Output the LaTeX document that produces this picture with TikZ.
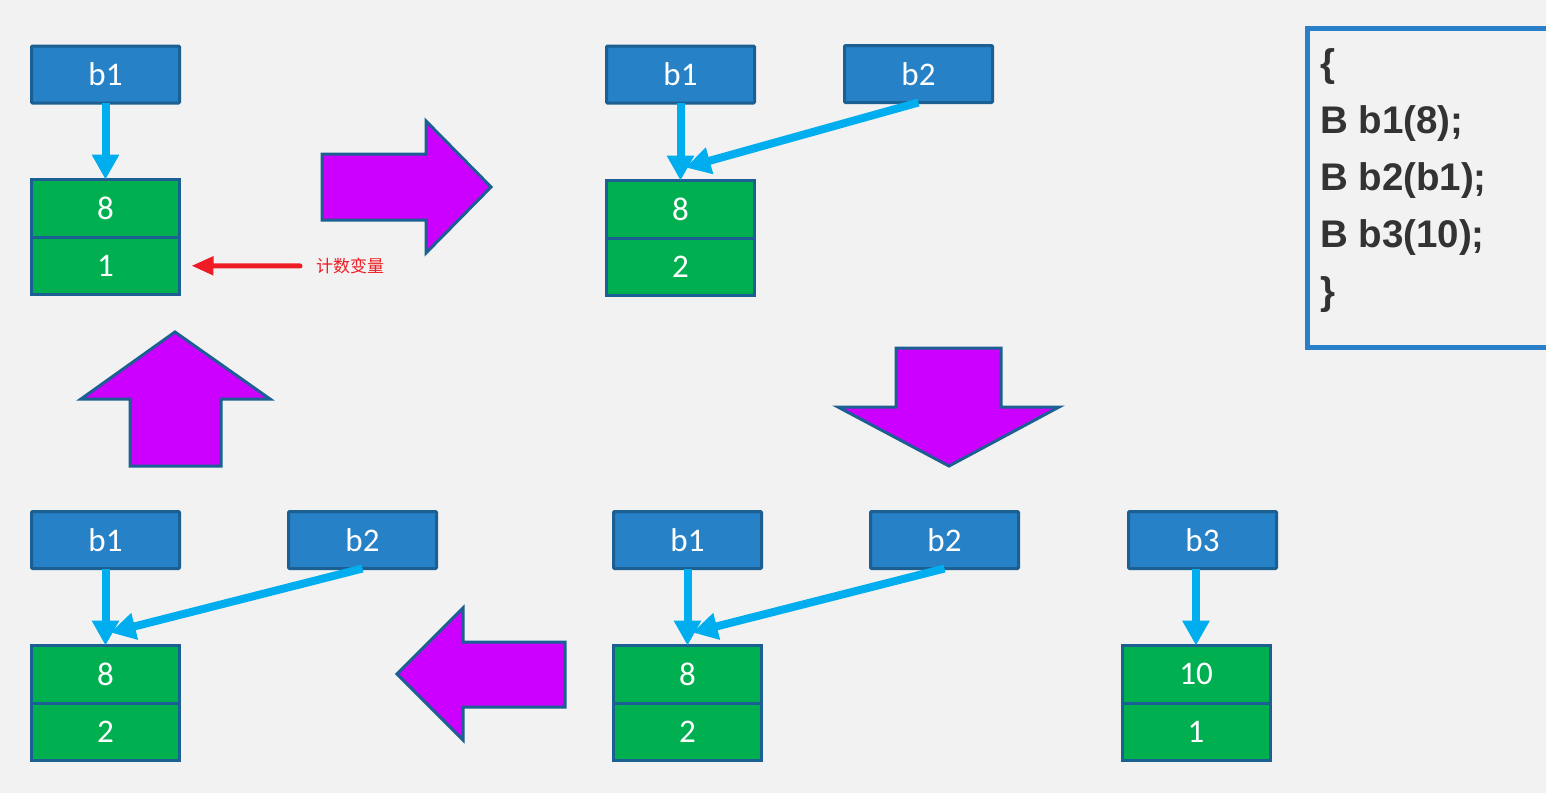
\documentclass[tikz,border=0pt]{standalone}
\usepackage{fontspec}
\setmainfont{Carlito}
\newfontfamily\codefont{Liberation Sans}
\newfontfamily\cjkfont{Noto Sans CJK SC}
\usetikzlibrary{arrows.meta,calc}

\definecolor{bg}{HTML}{F2F2F2}
\definecolor{boxblue}{HTML}{2681C6}
\definecolor{edgeblue}{HTML}{1C5F92}
\definecolor{cellgreen}{HTML}{00AF50}
\definecolor{ptr}{HTML}{00AEEF}
\definecolor{stepfill}{HTML}{CC00FF}
\definecolor{notered}{HTML}{EE1C24}
\definecolor{codegray}{HTML}{333333}
\definecolor{codeframe}{HTML}{2A80C8}

\tikzset{
  every node/.style={inner sep=0pt, outer sep=0pt},
  objname/.style={draw=edgeblue, line width=3pt, fill=boxblue,
    minimum width=148pt, minimum height=57pt, rounded corners=1pt,
    text=white, font=\fontsize{33}{33}\selectfont},
  cell/.style={draw=edgeblue, line width=3pt, fill=cellgreen,
    minimum width=148pt, minimum height=57.5pt,
    text=white, font=\fontsize{33}{33}\selectfont},
  ptrarrow/.style={draw=ptr, line width=8pt,
    -{Triangle[length=25pt,width=26pt]}},
  notearrow/.style={draw=notered, line width=5pt, line cap=round,
    -{Triangle[length=22pt,width=18pt]}},
  notetext/.style={text=notered, font=\cjkfont\fontsize{17}{17}\selectfont},
  stepshape/.style={fill=stepfill, draw=edgeblue, line width=3pt, line join=miter},
  codeline/.style={anchor=base west, text=codegray,
    font=\codefont\bfseries\fontsize{38.5}{38.5}\selectfont},
}

\begin{document}
\begin{tikzpicture}[x=1pt, y=-1pt]
  % canvas
  \fill[bg] (0,0) rectangle (1546,793);
  \useasboundingbox (0,0) rectangle (1546,793);

  % ---- b1 constructed: count 1 ----
  \node[objname] (A-b1) at (105.5,74.5) {b1};
  \node[cell] (A-c1) at (105.5,208.25) {8};
  \node[cell] (A-c2) at (105.5,265.75) {1};
  \draw[ptrarrow] (A-b1.south) -- (A-c1.north);
  \node[notetext, anchor=west] (A-note) at (316,266) {计数变量};
  \draw[notearrow, shorten <=16pt, shorten >=12pt] (A-note.west) -- (A-c2.east);

  % ---- b2 copies b1: count 2 ----
  \node[objname] (B-b1) at (680.5,74.5) {b1};
  \node[objname] (B-b2) at (918.5,74) {b2};
  \node[cell] (B-c1) at (680.5,209.25) {8};
  \node[cell] (B-c2) at (680.5,266.75) {2};
  \coordinate (B-t) at ($(B-c1.north)+(5,-13)$);
  \draw[ptrarrow] (B-b1.south) -- (B-c1.north);
  \draw[ptrarrow] (B-b2.south) -- (B-t);

  % ---- b3 constructed ----
  \node[objname] (D-b1) at (687.5,540) {b1};
  \node[objname] (D-b2) at (944.5,540) {b2};
  \node[cell] (D-c1) at (687.5,674.25) {8};
  \node[cell] (D-c2) at (687.5,731.75) {2};
  \coordinate (D-t) at ($(D-c1.north)+(5,-13)$);
  \draw[ptrarrow] (D-b1.south) -- (D-c1.north);
  \draw[ptrarrow] (D-b2.south) -- (D-t);

  \node[objname] (E-b3) at (1202.5,540) {b3};
  \node[cell] (E-c1) at (1196,674.25) {10};
  \node[cell] (E-c2) at (1196,731.75) {1};
  \draw[ptrarrow] (E-b3.south -| E-c1.north) -- (E-c1.north);

  % ---- b3 destroyed ----
  \node[objname] (C-b1) at (105.5,540) {b1};
  \node[objname] (C-b2) at (362.5,540) {b2};
  \node[cell] (C-c1) at (105.5,674.25) {8};
  \node[cell] (C-c2) at (105.5,731.75) {2};
  \coordinate (C-t) at ($(C-c1.north)+(5,-13)$);
  \draw[ptrarrow] (C-b1.south) -- (C-c1.north);
  \draw[ptrarrow] (C-b2.south) -- (C-t);

  % ---- block arrows between the states ----
  \draw[stepshape] (322,154) -- (426,154) -- (426,121) -- (491,187)
    -- (426,253) -- (426,220) -- (322,220) -- cycle;
  \draw[stepshape] (896,348) -- (1001,348) -- (1001,407) -- (1059,407)
    -- (949,466) -- (838,407) -- (896,407) -- cycle;
  \draw[stepshape] (565,642) -- (463,642) -- (463,608) -- (397,674)
    -- (463,740) -- (463,707) -- (565,707) -- cycle;
  \draw[stepshape] (130,466) -- (130,399) -- (81,399) -- (175,332)
    -- (270,399) -- (221,399) -- (221,466) -- cycle;

  % ---- source code ----
  \draw[codeframe, line width=5pt] (1560,28) -- (1307,28) -- (1307,347) -- (1560,347);
  \node[codeline] (L0) at (1320,76) {\{};
  \node[codeline] (L1) at (1320,133) {B b1(8);};
  \node[codeline] (L2) at (1320,190) {B b2(b1);};
  \node[codeline] (L3) at (1320,247) {B b3(10);};
  \node[codeline] (L4) at (1320,304) {\}};
\end{tikzpicture}
\end{document}
